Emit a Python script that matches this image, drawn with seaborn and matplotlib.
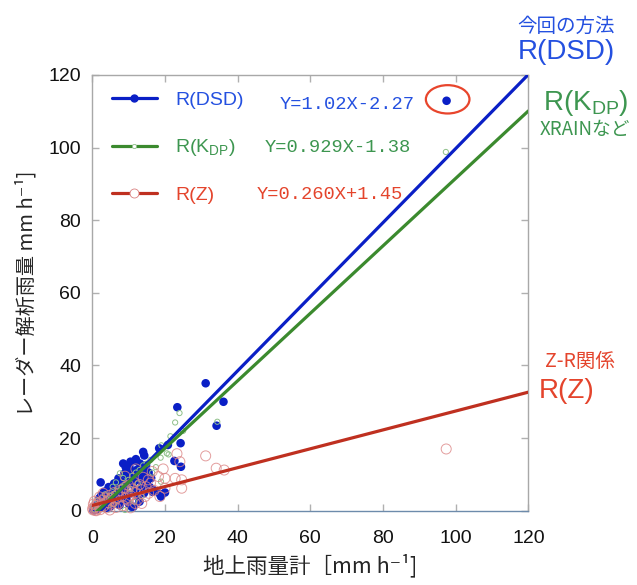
import numpy as np
import pandas as pd
import matplotlib
matplotlib.use("Agg")
import matplotlib.pyplot as plt
import seaborn as sns
from matplotlib.lines import Line2D
from matplotlib.patches import Ellipse

# values (gauge x, radar y), mm/h
dsd_x = [97.5, 31.2, 36.1, 34.2, 23.4, 24.3, 20.8, 18.4, 14.0, 14.3, 11.8, 8.5, 13.1, 22.6, 24.4,
         2.3, 18.9, 20.0, 16.6, 10.8, 9.5, 12.2, 7.2, 8.1, 9.9, 10.8, 12.7, 13.6, 11.8, 9.0,
         6.7, 5.3, 4.0, 3.0, 2.2, 1.3, 6.2, 8.1, 11.3, 16.8, 18.6, 0.5, 0.8, 1.8, 2.8,
         3.5, 4.5, 5.5, 7.0, 7.8, 10.0, 12.5, 9.5, 6.5, 8.8, 10.5, 11.0, 12.0, 13.5, 14.5,
         15.0, 14.8, 10.2, 1.0, 0.3, 3.8, 5.0, 4.2, 2.0, 7.5,
         6.0, 7.5, 8.5, 9.8, 11.5, 12.8, 13.8, 14.5, 10.5, 12.0, 9.2, 15.5, 16.2, 5.5, 4.5,
         3.2, 2.5, 6.0, 7.2, 8.5, 10.0, 13.0, 14.2, 15.8]
dsd_y = [112.9, 35.1, 30.0, 23.4, 28.5, 18.6, 18.1, 17.2, 16.2, 15.2, 13.7, 13.0, 13.0, 13.7, 12.1,
         7.8, 3.9, 5.0, 5.2, 1.1, 11.4, 11.2, 8.9, 8.0, 9.4, 7.5, 8.5, 6.6, 5.7, 6.2,
         5.2, 4.8, 4.3, 3.4, 2.5, 1.6, 2.0, 2.9, 1.1, 5.7, 4.6, 0.6, 0.2, 0.9, 1.5,
         2.2, 2.8, 3.2, 4.0, 5.5, 4.5, 3.8, 3.0, 6.8, 10.2, 11.0, 9.0, 10.0, 10.5, 11.5,
         8.0, 12.5, 12.2, 0.3, 0.1, 0.8, 1.2, 5.6, 3.5, 1.5,
         7.5, 7.0, 6.8, 7.8, 8.0, 9.5, 8.2, 9.5, 13.5, 14.2, 12.0, 10.5, 9.0, 6.0, 6.5,
         5.2, 4.2, 4.0, 3.0, 4.5, 2.0, 2.5, 4.8, 6.5]

kdp_x = [97.3, 24.0, 22.8, 34.4, 21.0, 18.8, 20.5, 7.6, 5.6, 9.0, 18.9, 0.5, 1.2, 2.0, 3.0,
         4.0, 5.0, 6.0, 7.0, 8.0, 9.0, 10.0, 11.0, 12.0, 13.0, 14.0, 15.0, 16.0, 3.5, 6.5,
         8.5, 10.5, 12.5, 2.5, 4.5, 6.0, 11.5, 13.5, 16.5, 17.5, 21.5, 19.0, 25.0, 0.2, 1.5]
kdp_y = [98.8, 26.9, 24.3, 24.5, 15.5, 14.6, 15.8, 10.3, 6.6, 0.2, 8.0, 0.4, 1.0, 1.6, 2.4,
         3.2, 4.0, 4.6, 5.5, 6.5, 7.2, 8.5, 9.6, 10.5, 11.2, 12.5, 13.0, 14.0, 4.5, 7.8,
         9.0, 6.0, 7.5, 0.5, 1.5, 1.8, 2.5, 4.0, 10.5, 12.0, 20.5, 18.0, 22.0, 1.2, 2.8]

z_x = [97.4, 31.2, 34.1, 36.3, 24.1, 23.3, 15.4, 18.2, 20.0, 22.8, 24.6, 24.6, 20.0, 18.6, 14.5,
       13.6, 11.8, 9.9, 0.2, 0.5, 0.8, 1.0, 1.3, 1.6, 1.9, 2.2, 2.5, 2.8, 3.1, 3.4,
       3.7, 4.0, 4.3, 4.6, 5.0, 5.3, 5.7, 6.0, 6.4, 6.8, 7.2, 7.6, 8.0, 8.4, 8.8,
       9.2, 9.6, 10.0, 10.5, 11.0, 11.5, 12.0, 12.5, 13.0, 13.5, 14.0, 14.8, 15.5, 16.0, 17.0,
       0.3, 0.6, 2.0, 3.0, 0.1, 1.1, 4.8, 6.5, 8.5, 10.5, 16.5, 19.5, 12.0, 9.0]
z_y = [17.0, 15.1, 11.7, 11.2, 13.5, 15.7, 8.5, 9.4, 8.9, 8.9, 8.5, 6.2, 6.2, 3.9, 3.9,
       2.0, 2.0, 2.9, 0.2, 0.8, 0.1, 1.5, 0.5, 2.2, 1.0, 0.3, 1.8, 2.8, 1.2, 3.5,
       2.2, 0.8, 3.0, 4.2, 1.8, 3.6, 2.6, 5.0, 3.2, 4.4, 2.0, 5.6, 3.8, 4.8, 6.4,
       3.4, 5.2, 7.0, 4.2, 6.0, 7.8, 5.0, 3.0, 7.2, 5.8, 9.2, 6.6, 4.8, 7.6, 5.6,
       1.8, 2.6, 3.8, 4.8, 0.6, 0.0, 0.2, 0.9, 1.4, 0.8, 10.8, 11.5, 11.5, 9.5]

# regression lines shown in the legend
slopes = [1.02, 0.929, 0.260]
intercepts = [-2.27, -1.38, 1.45]
fit_x = [0, 120]
equations = ["Y=1.02X-2.27", "Y=0.929X-1.38", "Y=0.260X+1.45"]
ticks = [0, 20, 40, 60, 80, 100, 120]

blue_line = "#0a1fc6"
green_line = "#3b8a2e"
red_line = "#bf3020"
blue_txt = "#2450e0"
green_txt = "#3d9650"
red_txt = "#e4442c"

sns.set_style("ticks")
plt.rcParams['font.family'] = ['Liberation Sans', 'Noto Sans CJK JP', 'DejaVu Sans']
plt.rcParams['mathtext.fontset'] = 'custom'
plt.rcParams['mathtext.rm'] = 'Liberation Sans'
cjk = ['Noto Sans CJK JP', 'DejaVu Sans']

fig = plt.figure(figsize=(6.37, 5.85), dpi=100)
ax = fig.add_axes([0.1449, 0.1270, 0.6845, 0.7448])

# points
sns.scatterplot(x=dsd_x, y=dsd_y, ax=ax, s=38, color=blue_line, edgecolor='none',
                clip_on=False, zorder=3)
sns.scatterplot(x=kdp_x, y=kdp_y, ax=ax, s=14, facecolor='none', edgecolor='#8fc08a',
                linewidth=0.7, clip_on=False, zorder=4)
sns.scatterplot(x=z_x, y=z_y, ax=ax, s=52, facecolor='none', edgecolor='#dc8585',
                linewidth=0.7, alpha=0.8, clip_on=False, zorder=5)

# fitted lines
fits = pd.DataFrame({'x': fit_x * 3,
                     'y': [m * v + b for m, b in zip(slopes, intercepts) for v in fit_x],
                     'kind': ['DSD'] * 2 + ['KDP'] * 2 + ['Z'] * 2})
sns.lineplot(data=fits, x='x', y='y', hue='kind', ax=ax, linewidth=2.3, legend=False,
             palette=[blue_line, green_line, red_line], zorder=6)

ax.add_patch(Ellipse((97.8, 113.3), 12.0, 7.8, fill=False, edgecolor='#e8452c',
                     linewidth=1.6, zorder=7))

ax.set_xlim(0, 120)
ax.set_ylim(0, 120)
ax.set_xticks(ticks)
ax.set_yticks(ticks)
ax.tick_params(direction='in', length=5, width=1, color='#b0b0b0', top=True, right=True,
               labelsize=14, labelcolor='#111111')
ax.tick_params(axis='x', pad=14)
ax.tick_params(axis='y', pad=8)
for side in ['left', 'top', 'right']:
    ax.spines[side].set_color('#a8a8a8')
    ax.spines[side].set_linewidth(1)
ax.spines['bottom'].set_color('#6d8bab')
ax.spines['bottom'].set_linewidth(1)

ax.set_xlabel("地上雨量計［mm h⁻¹]", family=cjk, fontsize=15.5, labelpad=5)
ax.set_ylabel("レーダー解析雨量 mm h⁻¹]", family=cjk, fontsize=14.5, labelpad=8)

# legend
handles = [
    Line2D([], [], color=blue_line, lw=2.3, marker='o', ms=5, mfc=blue_line, mec=blue_line),
    Line2D([], [], color=green_line, lw=2.3, marker='o', ms=3, mfc='white', mec='#8fc08a', mew=0.6),
    Line2D([], [], color=red_line, lw=2.3, marker='o', ms=6.5, mfc='white', mec='#d98080', mew=0.6),
]
leg = ax.legend(handles, ["R(DSD)", r"R(K$_\mathregular{DP}$)", "R(Z)"], loc='upper left',
                bbox_to_anchor=(0.045, 0.962), frameon=False, fontsize=14, handlelength=2.3,
                handletextpad=0.95, labelspacing=1.45, borderpad=0, borderaxespad=0)
for t, c in zip(leg.get_texts(), [blue_txt, green_txt, red_txt]):
    t.set_color(c)

for (ex, ey), eq, c in zip([(51.7, 111.8), (47.5, 100.0), (45.3, 87.0)], equations,
                           [blue_txt, green_txt, red_txt]):
    ax.text(ex, ey, eq, family='Liberation Mono', fontsize=13.5, color=c, va='center')

# notes on the right
fig.text(566 / 637, 1 - 26 / 585, "今回の方法", family=cjk, fontsize=14, color=blue_txt,
         ha='center', va='center')
fig.text(566 / 637, 1 - 52 / 585, "R(DSD)", fontsize=20, color=blue_txt, ha='center', va='center')
fig.text(586 / 637, 1 - 103 / 585, r"R(K$_\mathregular{DP}$)", fontsize=20, color=green_txt,
         ha='center', va='center')
fig.text(585 / 637, 1 - 130 / 585, "XRAINなど", family=cjk, fontsize=13.5, color=green_txt,
         ha='center', va='center')
fig.text(580 / 637, 1 - 361 / 585, "Z-R関係", family=cjk, fontsize=14, color=red_txt,
         ha='center', va='center')
fig.text(567 / 637, 1 - 391 / 585, "R(Z)", fontsize=20, color=red_txt, ha='center', va='center')

fig.savefig("out.png", dpi=100)
